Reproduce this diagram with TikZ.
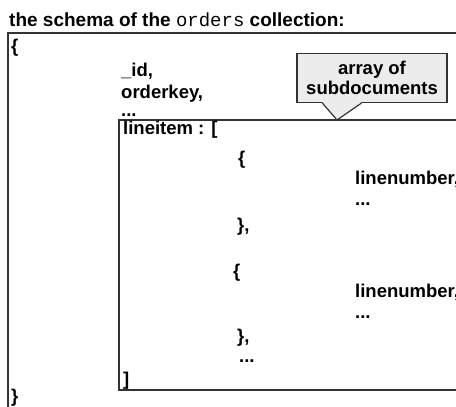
\documentclass[tikz,border=0pt]{standalone}
\usepackage{fontspec}
\setmainfont{Liberation Sans}
\setmonofont{Liberation Mono}
\usetikzlibrary{calc, positioning}

\tikzset{
  heading/.style={anchor=base west, inner sep=0pt, font=\fontsize{19}{23}\selectfont\bfseries},
  code/.style={anchor=base west, inner sep=0pt, font=\fontsize{18.5}{22}\selectfont\bfseries},
  docbox/.style={draw=black!80, line width=1.2pt},
  notebox/.style={docbox, fill=gray!15, align=center, inner sep=0pt,
    font=\fontsize{18.5}{20}\selectfont\bfseries}
}

\begin{document}
\begin{tikzpicture}[x=1pt, y=-1pt]
\useasboundingbox (0,0) rectangle (456,407);
\clip (0,0) rectangle (456,407);

% Title line
\node[heading] (title) at (9,26) {the schema of the {\mdseries\ttfamily orders} collection:};

% Outer document
\draw[docbox] (8,33) rectangle (480,430);
\node[code] (open) at (11,52) {\{};
\node[code] (close) at (11,402) {\}};

% Top level fields
\node[code] (id) at (121,76) {\_id,};
\node[code] (orderkey) at (121,98) {orderkey,};
\node[code] (more) at (121,116) {...};

% Array of subdocuments
\draw[docbox] (119,120) rectangle (480,390);
\coordinate (tip) at (337,120);
\node[code] (lineitem) at (123,134) {lineitem : [};

% first subdocument
\node[code] (sub1open) at (238,164) {\{};
\node[code] (num1) at (355,184) {linenumber,};
\node[code] (dots1) at (355,205) {...};
\node[code] (sub1close) at (237,231) {\},};

% second subdocument
\node[code] (sub2open) at (233,277) {\{};
\node[code] (num2) at (355,297) {linenumber,};
\node[code] (dots2) at (355,318) {...};
\node[code] (sub2close) at (237,342) {\},};
\node[code] (dots3) at (239,362) {...};
\node[code] (lineend) at (123,385) {]};

% Callout
\node[notebox, minimum width=150pt, minimum height=49pt] (note) at (372,78) {array of\\subdocuments};
\fill[gray!15] ($(note.south west)+(26,-1)$) -- (tip) -- ($(note.south west)+(65,-1)$) -- cycle;
\draw[docbox] ($(note.south west)+(26,0)$) -- (tip) -- ($(note.south west)+(65,0)$);
\end{tikzpicture}
\end{document}
